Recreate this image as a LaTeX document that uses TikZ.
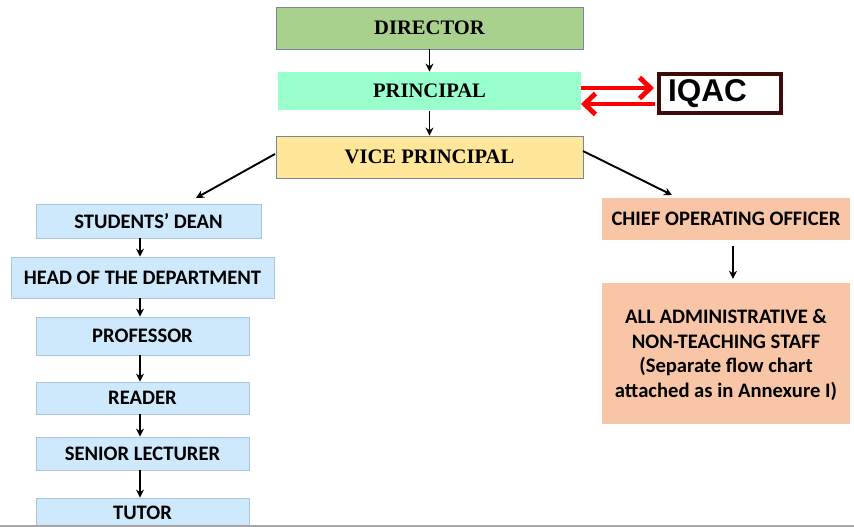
\documentclass[tikz,border=0pt]{standalone}
\usepackage{fontspec}
\setmainfont{Liberation Serif}
\newfontfamily\calib{Carlito}
\newfontfamily\arialf{Liberation Sans}
\usetikzlibrary{arrows.meta}
\definecolor{dirgreen}{HTML}{A9D18E}
\definecolor{prinaqua}{HTML}{99FFCC}
\definecolor{vpyellow}{HTML}{FFE699}
\definecolor{topborder}{HTML}{7A8796}
\definecolor{lblue}{HTML}{CDE9FB}
\definecolor{lblueborder}{HTML}{A9C6DC}
\definecolor{salmon}{HTML}{F8C6A6}
\definecolor{iqacborder}{HTML}{3F0A0A}
\tikzset{
  topbox/.style={draw=topborder, line width=0.8pt, inner sep=0pt,
    font=\fontsize{20.6}{23}\selectfont\bfseries},
  bluebox/.style={fill=lblue, draw=lblueborder, line width=0.8pt, inner sep=0pt,
    font=\calib\fontsize{20.6}{23}\selectfont\bfseries},
  salmonbox/.style={fill=salmon, inner sep=0pt, align=center,
    font=\calib\fontsize{20.6}{24.6}\selectfont\bfseries},
  iqacbox/.style={fill=white, draw=iqacborder, line width=4pt, inner sep=0pt,
    font=\arialf\fontsize{31.5}{34}\selectfont\bfseries},
  blackarrow/.style={line width=1.9pt, -{Stealth[length=8pt,width=8pt]}},
  redarrow/.style={red, line width=4.8pt, -{Straight Barb[length=11pt,width=21pt,line width=4.8pt]}},
}
\begin{document}
\begin{tikzpicture}[x=1pt,y=-1pt]
\useasboundingbox (0,0) rectangle (854,527);
\fill[white] (0,0) rectangle (854,527);

% top column
\node[topbox, fill=dirgreen, minimum width=307pt, minimum height=42pt] (dir) at (429.5,28) {DIRECTOR};
\node[topbox, draw=none, fill=prinaqua, minimum width=303pt, minimum height=38pt] (pri) at (429.5,91) {PRINCIPAL};
\node[topbox, fill=vpyellow, minimum width=307pt, minimum height=42pt] (vp) at (429.5,157) {VICE PRINCIPAL};
\node[iqacbox, minimum width=122pt, minimum height=39pt, text width=104pt, align=left] (iqac) at (720,93.5) {IQAC};

\draw[blackarrow] (dir.south) -- (pri.north);
\draw[blackarrow] ([yshift=-1pt]pri.south) -- (vp.north);

% red arrows
\coordinate (rt1) at (581,88);
\coordinate (rb1) at (581,104);
\draw[redarrow, shorten >=3pt] (rt1) -- (rt1 -| iqac.west);
\draw[redarrow, shorten <=2pt] (rb1 -| iqac.west) -- (rb1);

% left column
\node[bluebox, minimum width=225pt, minimum height=34pt] (sd) at (148.5,221) {STUDENTS’ DEAN};
\node[bluebox, minimum width=263pt, minimum height=41pt] (hod) at (142.5,277.5) {HEAD OF THE DEPARTMENT};
\node[bluebox, minimum width=213pt, minimum height=38pt] (prof) at (142.5,336) {PROFESSOR};
\node[bluebox, minimum width=213pt, minimum height=32pt] (read) at (142.5,398) {READER};
\node[bluebox, minimum width=213pt, minimum height=33pt] (sl) at (142.5,453.5) {SENIOR LECTURER};
\node[bluebox, minimum width=213pt, minimum height=30pt] (tut) at (142.5,513) {TUTOR};

\coordinate (colL) at (140,0);
\draw[blackarrow] (sd.south -| colL) -- (hod.north -| colL);
\draw[blackarrow] (hod.south -| colL) -- (prof.north -| colL);
\draw[blackarrow] (prof.south -| colL) -- (read.north -| colL);
\draw[blackarrow] (read.south -| colL) -- (sl.north -| colL);
\draw[blackarrow] (sl.south -| colL) -- (tut.north -| colL);

% right column
\node[salmonbox, minimum width=248pt, minimum height=42pt] (coo) at (726,219) {CHIEF OPERATING OFFICER};
\node[salmonbox, minimum width=248pt, minimum height=141pt, text depth=0pt] (adm) at (726,353.5)
  {ALL ADMINISTRATIVE \&\\NON-TEACHING STAFF\\(Separate flow chart\\attached as in Annexure I)};
\coordinate (colR) at (733,0);
\draw[blackarrow] ([yshift=-6pt]coo.south -| colR) -- ([yshift=4pt]adm.north -| colR);

% diagonal connectors
\coordinate (vpl) at (275,154);
\coordinate (dl) at (196,198);
\coordinate (vpr) at (583,151);
\coordinate (dr) at (672,195);
\draw[blackarrow] (vpl) -- (dl);
\draw[blackarrow] (vpr) -- (dr);

% bottom rule
\draw[gray!70, line width=2.5pt] (0,525.8) -- (854,525.8);
\end{tikzpicture}
\end{document}
